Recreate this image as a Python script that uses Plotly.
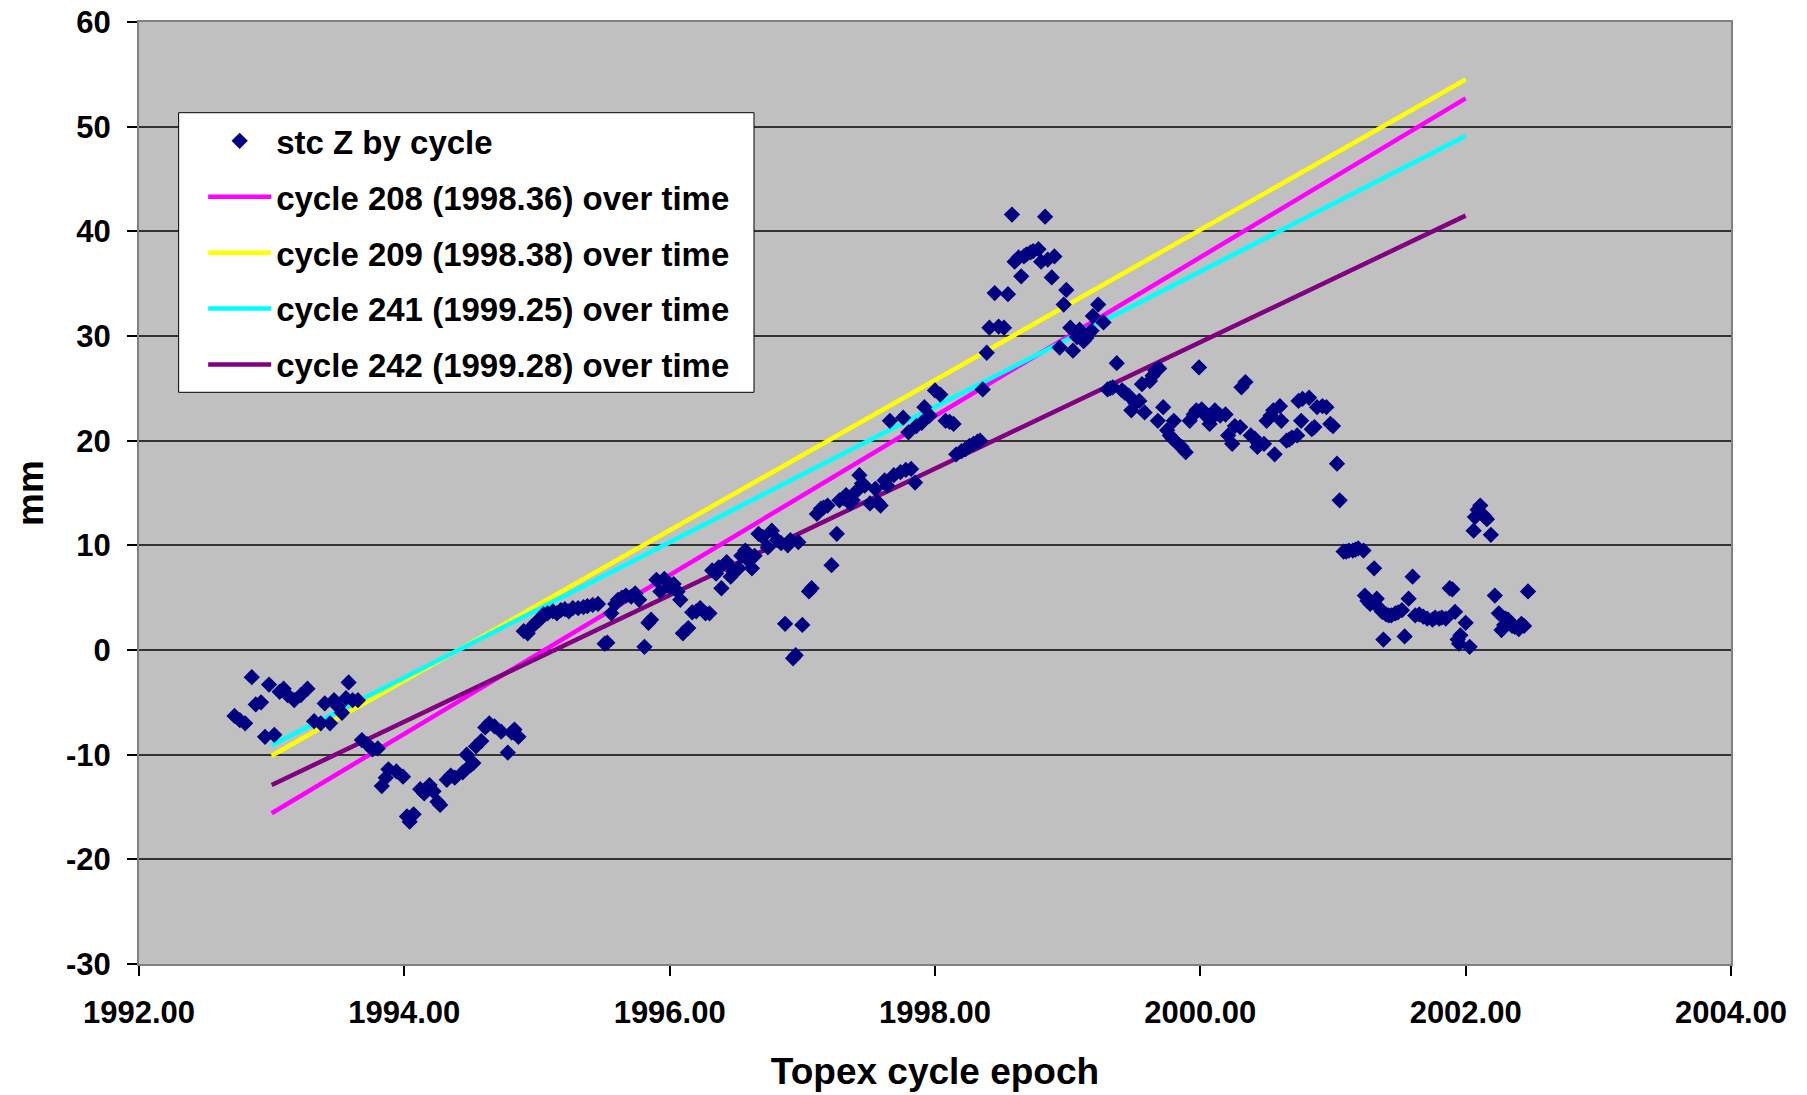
import plotly.graph_objects as go

# ---- data: stc Z by Topex cycle (epoch in years, value in mm) ----
epochs = [
    1992.72, 1992.76, 1992.80, 1992.85, 1992.88, 1992.92, 1992.95, 1992.98, 1993.02, 1993.06,
    1993.09, 1993.12, 1993.17, 1993.22, 1993.27, 1993.32, 1993.37, 1993.40, 1993.44, 1993.47,
    1993.50, 1993.53, 1993.56, 1993.58, 1993.61, 1993.65, 1993.68, 1993.72, 1993.76, 1993.80,
    1993.83, 1993.86, 1993.88, 1993.94, 1993.99, 1994.02, 1994.04, 1994.07, 1994.12, 1994.15,
    1994.19, 1994.22, 1994.25, 1994.27, 1994.32, 1994.35, 1994.38, 1994.44, 1994.47, 1994.50,
    1994.52, 1994.54, 1994.58, 1994.61, 1994.64, 1994.68, 1994.73, 1994.78, 1994.81, 1994.83,
    1994.86,
    1994.90, 1994.93, 1994.96, 1994.99, 1995.02, 1995.05, 1995.08, 1995.12, 1995.15, 1995.18,
    1995.21, 1995.24, 1995.27, 1995.31, 1995.35, 1995.38, 1995.42, 1995.46, 1995.51, 1995.53,
    1995.56, 1995.59, 1995.61, 1995.64, 1995.67, 1995.71, 1995.74, 1995.77, 1995.81, 1995.84,
    1995.86, 1995.90, 1995.93, 1995.96, 1996.00, 1996.03, 1996.06, 1996.08, 1996.10, 1996.14,
    1996.17, 1996.20, 1996.23, 1996.27, 1996.30, 1996.32, 1996.35, 1996.37, 1996.39, 1996.43,
    1996.46, 1996.48, 1996.52, 1996.54, 1996.57, 1996.59, 1996.62, 1996.64, 1996.67, 1996.70,
    1996.74, 1996.77, 1996.81, 1996.84, 1996.87, 1996.89, 1996.91, 1996.93, 1996.95, 1996.97,
    1997.00, 1997.05, 1997.07, 1997.11, 1997.14, 1997.16, 1997.19, 1997.22, 1997.26, 1997.28,
    1997.31, 1997.33, 1997.36, 1997.38, 1997.41, 1997.43, 1997.45, 1997.47, 1997.51, 1997.55,
    1997.57, 1997.59, 1997.62, 1997.64, 1997.66, 1997.69, 1997.74, 1997.76, 1997.78, 1997.80,
    1997.82, 1997.85, 1997.86, 1997.90, 1997.92, 1997.96, 1998.00, 1998.04, 1998.08, 1998.11,
    1998.14, 1998.16, 1998.20, 1998.23, 1998.26, 1998.29, 1998.32, 1998.34, 1998.36, 1998.39,
    1998.41, 1998.45, 1998.48, 1998.52, 1998.55, 1998.58, 1998.60, 1998.63, 1998.65, 1998.67,
    1998.69, 1998.72, 1998.74, 1998.78, 1998.80, 1998.83, 1998.85, 1998.88, 1998.90, 1998.94,
    1998.97, 1998.99, 1999.02, 1999.04, 1999.07, 1999.09, 1999.12, 1999.14, 1999.18, 1999.19,
    1999.23, 1999.27, 1999.30, 1999.32, 1999.34, 1999.37, 1999.41, 1999.43, 1999.46, 1999.48,
    1999.51, 1999.54, 1999.56, 1999.58, 1999.62, 1999.64, 1999.66, 1999.68, 1999.69, 1999.72,
    1999.75, 1999.77, 1999.79, 1999.80, 1999.83, 1999.86, 1999.89, 1999.92, 1999.95, 1999.97,
    1999.99, 2000.01, 2000.04, 2000.07, 2000.09, 2000.11, 2000.15, 2000.19, 2000.21, 2000.24,
    2000.26, 2000.30, 2000.31, 2000.34, 2000.38, 2000.41, 2000.43, 2000.44, 2000.48, 2000.50,
    2000.53, 2000.55, 2000.56, 2000.60, 2000.61, 2000.65, 2000.67, 2000.69, 2000.73, 2000.74,
    2000.76, 2000.77, 2000.82, 2000.84, 2000.86, 2000.88, 2000.92, 2000.95, 2000.98, 2001.00,
    2001.03, 2001.05, 2001.08, 2001.10, 2001.12, 2001.15, 2001.17, 2001.19, 2001.23, 2001.24,
    2001.26, 2001.28, 2001.31, 2001.33, 2001.35, 2001.37, 2001.38, 2001.40, 2001.42, 2001.44,
    2001.47, 2001.49, 2001.52, 2001.54, 2001.57, 2001.60, 2001.62, 2001.65, 2001.68, 2001.71,
    2001.75, 2001.77, 2001.80, 2001.82, 2001.85, 2001.88, 2001.90, 2001.92, 2001.94, 2001.95,
    2001.96, 2002.00, 2002.03, 2002.06, 2002.07, 2002.09, 2002.11, 2002.14, 2002.16, 2002.19,
    2002.22, 2002.25, 2002.27, 2002.29, 2002.30, 2002.32, 2002.35, 2002.37, 2002.40, 2002.42,
    2002.44, 2002.47,
]

stc_z = [
    -6.3, -6.7, -7.0, -2.6, -5.2, -5.0, -8.3, -3.3, -8.1, -4.0,
    -3.7, -4.3, -4.8, -4.3, -3.7, -6.8, -7.0, -5.1, -7.0, -4.8,
    -5.4, -6.0, -4.6, -3.1, -4.8, -4.8, -8.6, -9.0, -9.5, -9.4,
    -13.0, -12.2, -11.4, -11.6, -12.1, -15.9, -16.4, -15.7, -13.3, -13.7,
    -12.9, -13.5, -14.5, -14.8, -12.4, -12.0, -12.2, -11.7, -10.0, -11.0,
    -10.8, -9.2, -8.7, -7.4, -7.0, -7.3, -7.8, -9.8, -7.9, -7.6,
    -8.3,
    1.8, 1.6, 2.2, 2.6, 2.9, 3.4, 3.5, 3.7, 3.5, 3.8,
    3.9, 3.7, 4.0, 4.0, 4.1, 4.2, 4.3, 4.4, 0.6, 0.7,
    3.5, 4.4, 4.8, 5.0, 5.2, 5.1, 5.4, 4.8, 0.3, 2.6,
    2.9, 6.7, 5.6, 6.8, 6.0, 6.3, 5.6, 4.8, 1.6, 2.1,
    3.6, 3.7, 4.0, 3.5, 3.5, 7.6, 7.3, 7.9, 5.9, 8.4,
    7.0, 7.5, 7.8, 9.0, 9.5, 8.6, 7.8, 9.0, 11.1, 10.8,
    9.8, 11.4, 10.5, 10.2, 2.5, 10.0, 10.5, -0.8, -0.5, 10.3,
    2.4, 5.6, 5.9, 13.0, 13.5, 13.6, 13.8, 8.1, 11.1, 14.3,
    14.5, 14.8, 14.0, 14.3, 15.2, 16.7, 15.9, 15.7, 14.0, 15.4,
    14.1, 13.8, 16.2, 15.7, 21.9, 16.7, 17.0, 22.2, 17.2, 20.8,
    17.3, 16.0, 21.4, 21.7, 23.2, 22.4, 24.8, 24.4, 21.9, 21.8,
    21.6, 18.7, 19.0, 19.2, 19.5, 19.7, 19.9, 20.0, 24.9, 28.4,
    30.8, 34.1, 30.9, 30.8, 34.0, 41.6, 37.1, 37.5, 35.7, 37.6,
    37.8, 38.0, 38.1, 38.3, 37.1, 41.4, 37.3, 35.6, 37.6, 28.9,
    33.0, 34.4, 30.8, 28.6, 29.9, 30.6, 29.5, 29.8, 30.5, 31.9,
    33.0, 31.3, 24.9, 25.0, 25.1, 27.4, 24.8, 24.6, 24.3, 22.9,
    23.6, 23.8, 25.4, 22.7, 25.7, 26.2, 26.7, 21.9, 26.9, 23.2,
    21.0, 20.5, 20.2, 21.9, 19.7, 19.4, 18.9, 21.9, 22.5, 22.9,
    27.0, 23.0, 22.4, 21.6, 22.2, 22.9, 22.4, 22.5, 20.5, 19.7,
    21.4, 21.3, 25.1, 25.6, 20.5, 20.2, 19.4, 19.7, 19.7, 21.9,
    22.4, 22.9, 18.7, 23.3, 21.9, 20.0, 20.1, 20.3, 20.5, 23.8,
    21.9, 24.0, 24.1, 21.1, 21.3, 23.2, 23.3, 23.2, 21.6, 21.4,
    17.8, 14.3, 9.4, 9.4, 9.5, 9.5, 9.6, 9.7, 9.5, 5.2,
    4.7, 4.4, 7.8, 4.9, 4.0, 3.65, 1.0, 3.4, 3.3, 3.3,
    3.5, 3.6, 3.8, 1.3, 4.9, 7.0, 3.3, 3.4, 3.2, 3.0,
    2.9, 3.1, 3.0, 3.1, 3.0, 5.9, 5.8, 3.65, 1.0, 0.6,
    1.4, 2.6, 0.3, 11.4, 12.7, 13.4, 13.8, 12.8, 12.5, 11.0,
    5.2, 3.5, 1.9, 2.4, 3.0, 2.9, 2.3, 2.2, 2.0, 2.5,
    2.3, 5.6,
]

# ---- trend lines: value of each fit at the start and end epoch ----
line_epochs = [1993.0, 2002.0]
line_names = [
    "cycle 208 (1998.36) over time",
    "cycle 209 (1998.38) over time",
    "cycle 241 (1999.25) over time",
    "cycle 242 (1999.28) over time",
]
line_values = [
    [-15.6, 52.7],
    [-10.1, 54.5],
    [-9.1, 49.1],
    [-12.9, 41.5],
]
line_colors = ["#FF00FF", "#FFFF00", "#00FFFF", "#800080"]

x_ticks = [1992, 1994, 1996, 1998, 2000, 2002, 2004]
x_ticktext = ["1992.00", "1994.00", "1996.00", "1998.00", "2000.00", "2002.00", "2004.00"]
y_ticks = [-30, -20, -10, 0, 10, 20, 30, 40, 50, 60]
y_ticktext = ["-30", "-20", "-10", "0", "10", "20", "30", "40", "50", "60"]

FONT = "Liberation Sans, Arial, Helvetica, sans-serif"

fig = go.Figure()

for i, (name, vals, col) in enumerate(zip(line_names, line_values, line_colors)):
    fig.add_trace(go.Scatter(
        x=line_epochs, y=vals, mode="lines", name=name,
        line=dict(color=col, width=4.5),
        legendgroup=f"g{i+1}", legendrank=i + 2,
    ))

fig.add_trace(go.Scatter(
    x=epochs, y=stc_z, mode="markers", name="stc Z by cycle",
    marker=dict(symbol="diamond", size=12.5, color="#000080", line=dict(width=0)),
    legendgroup="g0", legendrank=1,
))

axis_common = dict(
    showline=True, linecolor="#808080", linewidth=2, mirror=True,
    ticks="outside", ticklen=10, tickwidth=1.5, tickcolor="black",
    zeroline=False, automargin=False,
    tickfont=dict(family=FONT, size=31, color="black", weight="bold"),
)

# white legend panel with black frame (drawn above the data, below the legend text)
fig.add_shape(
    type="rect", xref="paper", yref="paper",
    x0=0.0249, x1=0.3863, y0=0.6069, y1=0.9037,
    fillcolor="white", line=dict(color="black", width=1), layer="above",
)

fig.update_layout(
    width=1807, height=1095, autosize=False,
    paper_bgcolor="white", plot_bgcolor="#C0C0C0",
    margin=dict(l=139, r=76, t=22, b=131),
    font=dict(family=FONT, color="black"),
    showlegend=True,
    legend=dict(
        x=0.0246, y=0.9035, xanchor="left", yanchor="top",
        bgcolor="rgba(0,0,0,0)", borderwidth=0,
        font=dict(family=FONT, size=33, color="black", weight="bold"),
        traceorder="grouped", tracegroupgap=10, itemwidth=63,
        indentation=25,
    ),
    xaxis=dict(
        range=[1992, 2004], tickvals=x_ticks, ticktext=x_ticktext,
        showgrid=False, ticklabelstandoff=10,
        title=dict(text="Topex cycle epoch", standoff=29,
                   font=dict(family=FONT, size=37, color="black", weight="bold")),
        **axis_common,
    ),
    yaxis=dict(
        range=[-30, 60], tickvals=y_ticks, ticktext=y_ticktext,
        showgrid=True, gridcolor="#333333", gridwidth=1.5,
        ticklabelstandoff=10,
        title=dict(text="mm", standoff=11,
                   font=dict(family=FONT, size=37, color="black", weight="bold")),
        **axis_common,
    ),
)

fig.write_html("out.html", include_plotlyjs=True)
